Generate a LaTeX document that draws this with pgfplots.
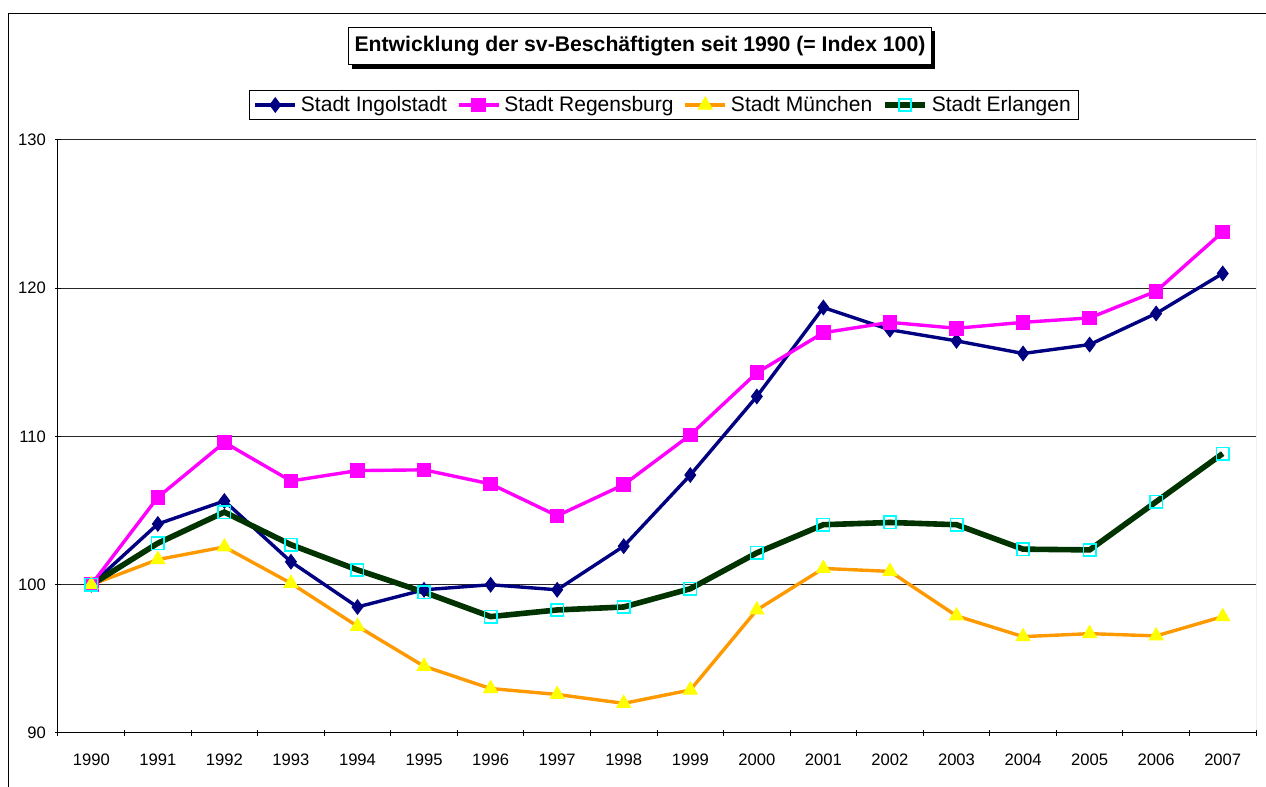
\documentclass[border=0pt]{standalone}
\usepackage{fontspec}
\setmainfont{Liberation Sans}
\usepackage{pgfplots}
\pgfplotsset{compat=1.18}
\usetikzlibrary{shadows}
\definecolor{ingol}{RGB}{0,0,128}
\definecolor{regen}{RGB}{255,0,255}
\definecolor{muenO}{RGB}{255,153,0}
\definecolor{muenY}{RGB}{255,255,0}
\definecolor{erlG}{RGB}{0,51,0}
\definecolor{erlC}{RGB}{0,255,255}
\begin{document}
\begin{tikzpicture}
\begin{axis}[
  scale only axis, width=599pt, height=296.5pt,
  xmin=-0.5, xmax=17.5, ymin=90, ymax=130,
  ytick={90,100,110,120,130},
  xtick={0,...,17},
  xticklabels={1990,1991,1992,1993,1994,1995,1996,1997,1998,1999,2000,2001,2002,2003,2004,2005,2006,2007},
  minor xtick={-0.5,0.5,...,17.5},
  major x tick style={draw=none},
  ytick style={draw=black, line width=0.5pt},
  minor x tick style={draw=black, line width=0.5pt},
  major tick length=3pt, minor tick length=3pt,
  tick align=outside,
  axis lines=left,
  axis line style={-, black, line width=0.5pt},
  ymajorgrids, grid style={black!85, line width=0.5pt},
  minor grid style={draw=none},
  /pgf/number format/assume math mode=true,
  tick label style={font=\fontsize{8.3}{10}\selectfont},
  xticklabel style={yshift=-5.5pt},
  yticklabel style={xshift=-1pt},
  legend columns=4,
  legend style={at={(axis description cs:0.506,1.059)}, anchor=center,
    draw=black, line width=0.5pt, fill=white,
    font=\fontsize{10.5}{12}\selectfont,
    inner xsep=2pt, inner ysep=1.5pt,
    nodes={inner xsep=2pt, inner ysep=1pt},
    /tikz/every even column/.append style={column sep=3pt}},
  legend image code/.code={\draw[mark repeat=2,mark phase=2] plot coordinates {(0pt,0pt)(10pt,0pt)(20pt,0pt)};},
]
\addplot[ingol, line width=1.7pt, mark=diamond*, mark size=3.6pt, mark options={solid, fill=ingol, draw=ingol, line width=0.5pt}] coordinates {
(0,100) (1,104.1) (2,105.65) (3,101.55) (4,98.5) (5,99.66) (6,100.0) (7,99.66) (8,102.6) (9,107.4) (10,112.7) (11,118.7) (12,117.2) (13,116.45) (14,115.6) (15,116.2) (16,118.3) (17,121.0)};
\addlegendentry{Stadt Ingolstadt}
\addplot[regen, line width=1.7pt, mark=square*, mark size=3.4pt, mark options={solid, fill=regen, draw=regen, line width=0.5pt}] coordinates {
(0,100) (1,105.9) (2,109.6) (3,107.0) (4,107.7) (5,107.75) (6,106.8) (7,104.65) (8,106.75) (9,110.1) (10,114.3) (11,117.0) (12,117.7) (13,117.3) (14,117.7) (15,118.0) (16,119.8) (17,123.8)};
\addlegendentry{Stadt Regensburg}
\addplot[muenO, line width=1.7pt, mark=triangle*, mark size=4pt, mark options={solid, fill=muenY, draw=muenY, line width=0.5pt}] coordinates {
(0,100) (1,101.7) (2,102.55) (3,100.1) (4,97.2) (5,94.5) (6,93.0) (7,92.6) (8,92.0) (9,92.9) (10,98.3) (11,101.1) (12,100.9) (13,97.9) (14,96.5) (15,96.7) (16,96.55) (17,97.85)};
\addlegendentry{Stadt München}
\addplot[erlG, line width=2.8pt, mark=square, mark size=3.1pt, mark options={solid, draw=erlC, line width=0.8pt}] coordinates {
(0,100) (1,102.8) (2,104.9) (3,102.7) (4,101.0) (5,99.5) (6,97.85) (7,98.3) (8,98.5) (9,99.73) (10,102.15) (11,104.05) (12,104.2) (13,104.05) (14,102.4) (15,102.35) (16,105.6) (17,108.85)};
\addlegendentry{Stadt Erlangen}
\draw[black!50, line width=0.5pt] (rel axis cs:1,0) -- (rel axis cs:1,1);
\end{axis}
\node[draw=black, fill=white, line width=0.5pt,
  drop shadow={shadow xshift=1.8pt, shadow yshift=-1.8pt, fill=black, opacity=1},
  inner xsep=3pt, inner ysep=4.5pt,
  font=\bfseries\fontsize{10.6}{12}\selectfont] at (291pt,343.5pt)
  {Entwicklung der sv-Beschäftigten seit 1990 (= Index 100)};
\draw[black, line width=0.7pt] (-24.75pt,-40pt) -- (-24.75pt,359.75pt) -- (640pt,359.75pt);
\pgfresetboundingbox
\path[use as bounding box] (-29pt,-27pt) rectangle (604pt,366.5pt);
\end{tikzpicture}
\end{document}
